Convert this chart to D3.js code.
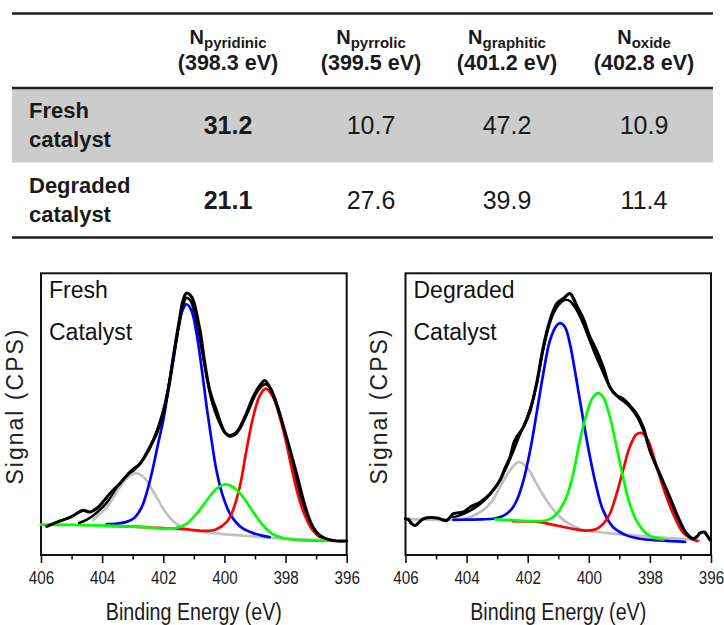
<!DOCTYPE html>
<html><head><meta charset="utf-8">
<script src="https://cdn.jsdelivr.net/npm/d3@7"></script>
<style>
html,body{margin:0;padding:0;background:#fff;}
svg{display:block;font-family:"Liberation Sans",Arial,Helvetica,sans-serif;}
</style></head><body>
<svg id="chart" width="724" height="625"></svg>
<script>
// ---------------- Table data ----------------
const columnSubscripts = ["pyridinic", "pyrrolic", "graphitic", "oxide"];
const columnEnergies = ["(398.3 eV)", "(399.5 eV)", "(401.2 eV)", "(402.8 eV)"];
const rowLabels = [["Fresh", "catalyst"], ["Degraded", "catalyst"]];
const freshPercent = [31.2, 10.7, 47.2, 10.9];
const degradedPercent = [21.1, 27.6, 39.9, 11.4];

// ---------------- Spectra data: [binding energy (eV), signal (a.u.)] ----------------
const energyMajorTicks = [406, 404, 402, 400, 398, 396];
const energyMinorTicks = [405, 403, 401, 399, 397];

const freshMeasured = [[405.81,10.0],[405.6,11.0],[405.38,11.9],[405.0,13.5],[404.62,15.7],[404.4,15.1],[404.13,16.8],[403.95,19.0],[403.75,21.6],[403.42,25.2],[403.09,29.3],[402.76,32.3],[402.6,35.0],[402.44,38.2],[402.22,43.0],[402.0,50.1],[401.84,58.4],[401.68,69.0],[401.51,80.9],[401.35,90.4],[401.24,93.0],[401.1,92.0],[401.02,90.4],[400.8,79.7],[400.64,67.9],[400.48,58.4],[400.26,51.2],[399.99,43.5],[399.82,42.3],[399.6,43.5],[399.33,48.9],[399.06,56.0],[398.84,60.1],[398.68,61.9],[398.52,59.5],[398.3,53.6],[397.97,41.7],[397.64,28.7],[397.32,15.7],[397.1,9.7],[396.88,6.8],[396.56,5.2],[396.3,4.8],[396.0,4.8]];
const freshEnvelope = [[404.75,11.2],[404.5,12.4],[404.3,13.8],[404.1,15.6],[403.85,18.4],[403.6,22.0],[403.4,24.8],[403.1,28.6],[402.8,31.8],[402.5,36.5],[402.3,41.5],[402.1,47.5],[401.95,53.5],[401.8,61.5],[401.65,71.0],[401.5,80.5],[401.35,88.5],[401.25,91.2],[401.12,90.5],[401.0,87.0],[400.85,79.5],[400.7,70.5],[400.55,61.5],[400.4,54.0],[400.2,47.8],[400.0,43.6],[399.85,42.0],[399.65,42.6],[399.45,45.6],[399.2,51.5],[399.0,56.5],[398.8,59.6],[398.65,60.6],[398.5,59.3],[398.3,54.0],[398.1,46.5],[397.9,37.5],[397.7,28.5],[397.5,19.8],[397.3,13.0],[397.1,8.6],[396.9,6.4],[396.6,5.3],[396.4,5.0]];
const freshGraphitic = [[403.85,10.8],[403.5,11.0],[403.2,11.6],[402.95,13.0],[402.8,15.0],[402.66,18.0],[402.49,24.0],[402.33,31.1],[402.17,39.4],[402.0,47.7],[401.84,58.4],[401.68,70.2],[401.51,80.9],[401.4,86.0],[401.24,89.0],[401.08,86.8],[400.91,78.5],[400.75,66.7],[400.58,52.4],[400.42,40.6],[400.26,29.9],[400.04,20.4],[399.82,14.5],[399.6,11.2],[399.4,9.3],[399.06,7.6],[398.8,6.8],[398.52,6.2]];
const freshPyridinic = [[403.9,10.2],[403.0,9.9],[402.44,9.6],[401.35,9.0],[400.58,8.4],[400.3,8.8],[399.93,11.5],[399.72,15.7],[399.5,24.0],[399.28,37.0],[399.06,48.9],[398.84,56.6],[398.65,59.0],[398.41,56.0],[398.19,48.9],[397.97,39.4],[397.76,28.7],[397.54,19.2],[397.32,12.7],[397.1,8.5],[396.77,6.0],[396.45,5.0]];
const freshPyrrolic = [[406.0,10.6],[405.0,10.5],[403.85,10.3],[402.8,9.8],[401.9,9.2],[401.6,9.4],[401.24,10.9],[400.91,14.5],[400.58,19.2],[400.26,23.4],[399.99,24.9],[399.72,24.0],[399.39,20.4],[399.06,15.1],[398.73,10.3],[398.41,7.2],[397.97,5.6],[397.32,5.0],[396.45,4.9]];
const freshOxide = [[404.29,12.3],[404.1,14.2],[403.85,16.8],[403.62,20.5],[403.42,24.0],[403.2,27.0],[403.0,28.6],[402.87,28.9],[402.7,28.0],[402.55,26.3],[402.22,20.4],[401.89,14.5],[401.57,10.9],[401.13,8.8],[400.37,7.6],[399.5,6.8],[398.41,5.9],[397.32,5.3],[396.5,5.0]];

const degradedMeasured = [[406.0,12.7],[405.9,12.4],[405.8,11.0],[405.68,10.3],[405.55,11.5],[405.41,12.7],[404.97,13.0],[404.8,12.4],[404.65,12.1],[404.43,14.5],[404.1,15.1],[403.89,16.8],[403.56,18.6],[403.23,21.6],[402.91,26.3],[402.75,30.5],[402.58,34.6],[402.42,40.6],[402.14,45.3],[401.92,51.2],[401.71,60.7],[401.49,73.8],[401.27,83.3],[401.05,89.2],[400.84,91.0],[400.62,92.8],[400.5,91.0],[400.4,88.6],[400.18,83.9],[399.96,77.3],[399.75,72.6],[399.53,66.7],[399.31,59.5],[399.09,56.6],[398.88,55.4],[398.66,53.0],[398.44,50.1],[398.22,45.3],[398.0,37.0],[397.68,28.7],[397.35,20.4],[397.03,12.1],[396.8,7.4],[396.59,5.6],[396.45,6.5],[396.36,7.6],[396.21,7.9],[396.1,6.3],[396.02,5.0]];
const degradedEnvelope = [[404.5,13.0],[404.2,14.0],[403.9,15.5],[403.6,17.6],[403.3,20.6],[403.0,24.8],[402.75,29.8],[402.5,36.0],[402.3,41.5],[402.1,46.5],[401.9,52.5],[401.7,61.0],[401.5,72.5],[401.3,81.5],[401.1,87.0],[400.9,89.8],[400.75,90.6],[400.6,90.0],[400.4,87.0],[400.2,82.5],[400.0,77.0],[399.8,71.5],[399.6,66.5],[399.4,61.5],[399.2,57.8],[399.0,55.6],[398.8,54.0],[398.6,51.8],[398.4,48.6],[398.2,43.8],[398.0,37.5],[397.8,31.5],[397.6,26.5],[397.4,20.8],[397.2,15.5],[397.0,11.0],[396.8,7.5],[396.6,5.6],[396.4,4.9]];
const degradedGraphitic = [[404.43,12.3],[404.0,12.4],[403.5,12.5],[403.12,12.7],[402.9,13.3],[402.69,14.5],[402.5,16.5],[402.36,19.2],[402.14,26.3],[401.92,37.0],[401.71,50.1],[401.49,64.3],[401.27,76.2],[401.05,81.5],[400.94,82.3],[400.78,80.9],[400.62,75.0],[400.4,61.9],[400.18,47.7],[399.96,34.6],[399.75,24.0],[399.53,15.7],[399.2,9.7],[398.76,6.8],[398.33,5.6],[397.68,5.0],[396.85,4.5]];
const degradedPyrrolic = [[403.06,12.5],[402.5,12.2],[402.03,11.9],[401.6,11.9],[401.38,12.2],[401.2,13.0],[401.05,14.5],[400.9,16.8],[400.73,20.4],[400.51,28.7],[400.29,40.6],[400.07,50.1],[399.86,56.0],[399.69,57.4],[399.53,56.0],[399.31,48.9],[399.09,38.2],[398.88,27.5],[398.66,18.0],[398.44,12.1],[398.11,7.4],[397.85,6.0],[397.56,5.4]];
const degradedPyridinic = [[402.5,11.9],[402.0,11.8],[401.6,11.5],[401.05,10.3],[400.51,9.1],[400.07,8.5],[399.75,9.1],[399.53,10.9],[399.31,14.5],[399.09,21.6],[398.88,29.9],[398.66,38.2],[398.44,42.7],[398.27,43.2],[398.06,40.6],[397.84,33.5],[397.57,24.0],[397.24,14.5],[396.92,7.9],[396.59,5.4],[396.45,4.8]];
const degradedOxide = [[405.9,12.7],[405.08,12.3],[404.5,12.5],[403.99,13.0],[403.65,14.5],[403.34,16.8],[403.1,20.0],[402.91,24.0],[402.58,29.9],[402.31,32.8],[402.03,31.1],[401.71,25.2],[401.38,19.2],[401.05,14.5],[400.73,11.5],[400.29,9.1],[399.64,7.9],[398.55,6.8],[397.46,5.9],[396.59,5.3],[396.4,5.0]];

const panels = [
  {title: ["Fresh", "Catalyst"], measured: freshMeasured, envelope: freshEnvelope,
   oxide: freshOxide, graphitic: freshGraphitic, pyridinic: freshPyridinic, pyrrolic: freshPyrrolic,
   left: 41, right: 346.7},
  {title: ["Degraded", "Catalyst"], measured: degradedMeasured, envelope: degradedEnvelope,
   oxide: degradedOxide, graphitic: degradedGraphitic, pyridinic: degradedPyridinic, pyrrolic: degradedPyrrolic,
   left: 405.5, right: 711}
];

const svg = d3.select("#chart");
const ink = "#1a1a1a";

// ---------------- Table ----------------
const colX = d3.scaleOrdinal().domain(columnSubscripts).range([228, 371, 507, 644]);
const tableLeft = 12, tableRight = 713;
const rowBand = d3.scaleOrdinal().domain([0, 1]).range([[88, 162.5], [162.5, 237.5]]);

svg.append("rect").attr("x", tableLeft).attr("y", rowBand(0)[0])
  .attr("width", tableRight - tableLeft).attr("height", rowBand(0)[1] - rowBand(0)[0])
  .attr("fill", "#cccccc");

[[13.5, 2.6], [88, 2.4], [237.5, 2.6]].forEach(([yy, w]) => {
  svg.append("line").attr("x1", tableLeft).attr("x2", tableRight)
    .attr("y1", yy).attr("y2", yy).attr("stroke", "#202020").attr("stroke-width", w);
});

const hdr = svg.append("g").attr("font-weight", "bold").attr("fill", ink).attr("text-anchor", "middle");
columnSubscripts.forEach((s, i) => {
  const t = hdr.append("text").attr("x", colX(s)).attr("y", 43.5);
  t.append("tspan").attr("font-size", 20).text("N");
  t.append("tspan").attr("font-size", 15).attr("dy", 4).text(s);
  hdr.append("text").attr("x", colX(s)).attr("y", 69.5).attr("font-size", 21.5).text(columnEnergies[i]);
});

const rowBaselines = [[118.3, 146.7], [193.3, 221.7]];
const valueBaselines = [133.5, 208.5];
[freshPercent, degradedPercent].forEach((vals, r) => {
  rowLabels[r].forEach((lab, k) => {
    svg.append("text").attr("x", 29).attr("y", rowBaselines[r][k])
      .attr("font-size", 22).attr("font-weight", "bold").attr("fill", ink).text(lab);
  });
  vals.forEach((v, c) => {
    svg.append("text").attr("x", colX(columnSubscripts[c])).attr("y", valueBaselines[r])
      .attr("text-anchor", "middle").attr("font-size", 25)
      .attr("font-weight", c === 0 ? "bold" : "normal").attr("fill", ink)
      .text(d3.format(".1f")(v));
  });
});

// ---------------- Spectra ----------------
const y = d3.scaleLinear().domain([0, 100]).range([554.5, 273.3]);
const axisY = 555;

panels.forEach((p, pi) => {
  const x = d3.scaleLinear().domain([406, 396]).range([p.left, p.right]);
  const g = svg.append("g");
  const line = d3.line().x(d => x(d[0])).y(d => y(d[1])).curve(d3.curveCatmullRom.alpha(0.5));

  // box
  g.append("rect").attr("x", x(406)).attr("y", y(100))
    .attr("width", x(396) - x(406)).attr("height", axisY - y(100))
    .attr("fill", "none").attr("stroke", "#111").attr("stroke-width", 2);

  // axes
  const major = g.append("g").attr("transform", `translate(0,${axisY})`)
    .call(d3.axisBottom(x).tickValues(energyMajorTicks).tickSize(8).tickPadding(8).tickFormat(d3.format("d")));
  const minor = g.append("g").attr("transform", `translate(0,${axisY})`)
    .call(d3.axisBottom(x).tickValues(energyMinorTicks).tickSize(4.5).tickFormat(""));
  [major, minor].forEach(a => {
    a.select(".domain").remove();
    a.selectAll("line").attr("stroke", "#111").attr("stroke-width", 1.6);
  });
  major.selectAll("text").attr("font-size", 19).attr("fill", ink)
    .attr("font-family", "'Liberation Sans', Arial, sans-serif")
    .attr("transform", "scale(0.8,1)");

  // x label
  const cx = (x(406) + x(396)) / 2;
  g.append("g").attr("transform", `translate(${cx},620)`)
    .append("text").attr("text-anchor", "middle").attr("font-size", 24).attr("fill", ink)
    .attr("transform", "scale(0.82,1)").text("Binding Energy (eV)");

  // y label
  g.append("text").attr("transform", `translate(${x(406) - 18.5},406) rotate(-90)`)
    .attr("text-anchor", "middle").attr("font-size", 23).attr("letter-spacing", 2)
    .attr("fill", "#222").text("Signal (CPS)");

  // panel title
  p.title.forEach((t, k) => {
    g.append("text").attr("x", x(406) + 8).attr("y", [298, 340][k])
      .attr("font-size", 23).attr("fill", "#111").text(t);
  });

  // curves
  const curves = [
    [p.envelope, "#000", 2.6],
    [p.oxide, "#c0c0c0", 2.7],
    [p.graphitic, "#0000ff", 2.7],
    [p.pyridinic, "#ff0000", 2.7],
    [p.pyrrolic, "#00ff00", 2.7],
    [p.measured, "#000", 3.1]
  ];
  curves.forEach(([data, col, w]) => {
    g.append("path").datum(data).attr("d", line)
      .attr("fill", "none").attr("stroke", col).attr("stroke-width", w)
      .attr("stroke-linejoin", "round").attr("stroke-linecap", "round");
  });
});
</script>
</body></html>
